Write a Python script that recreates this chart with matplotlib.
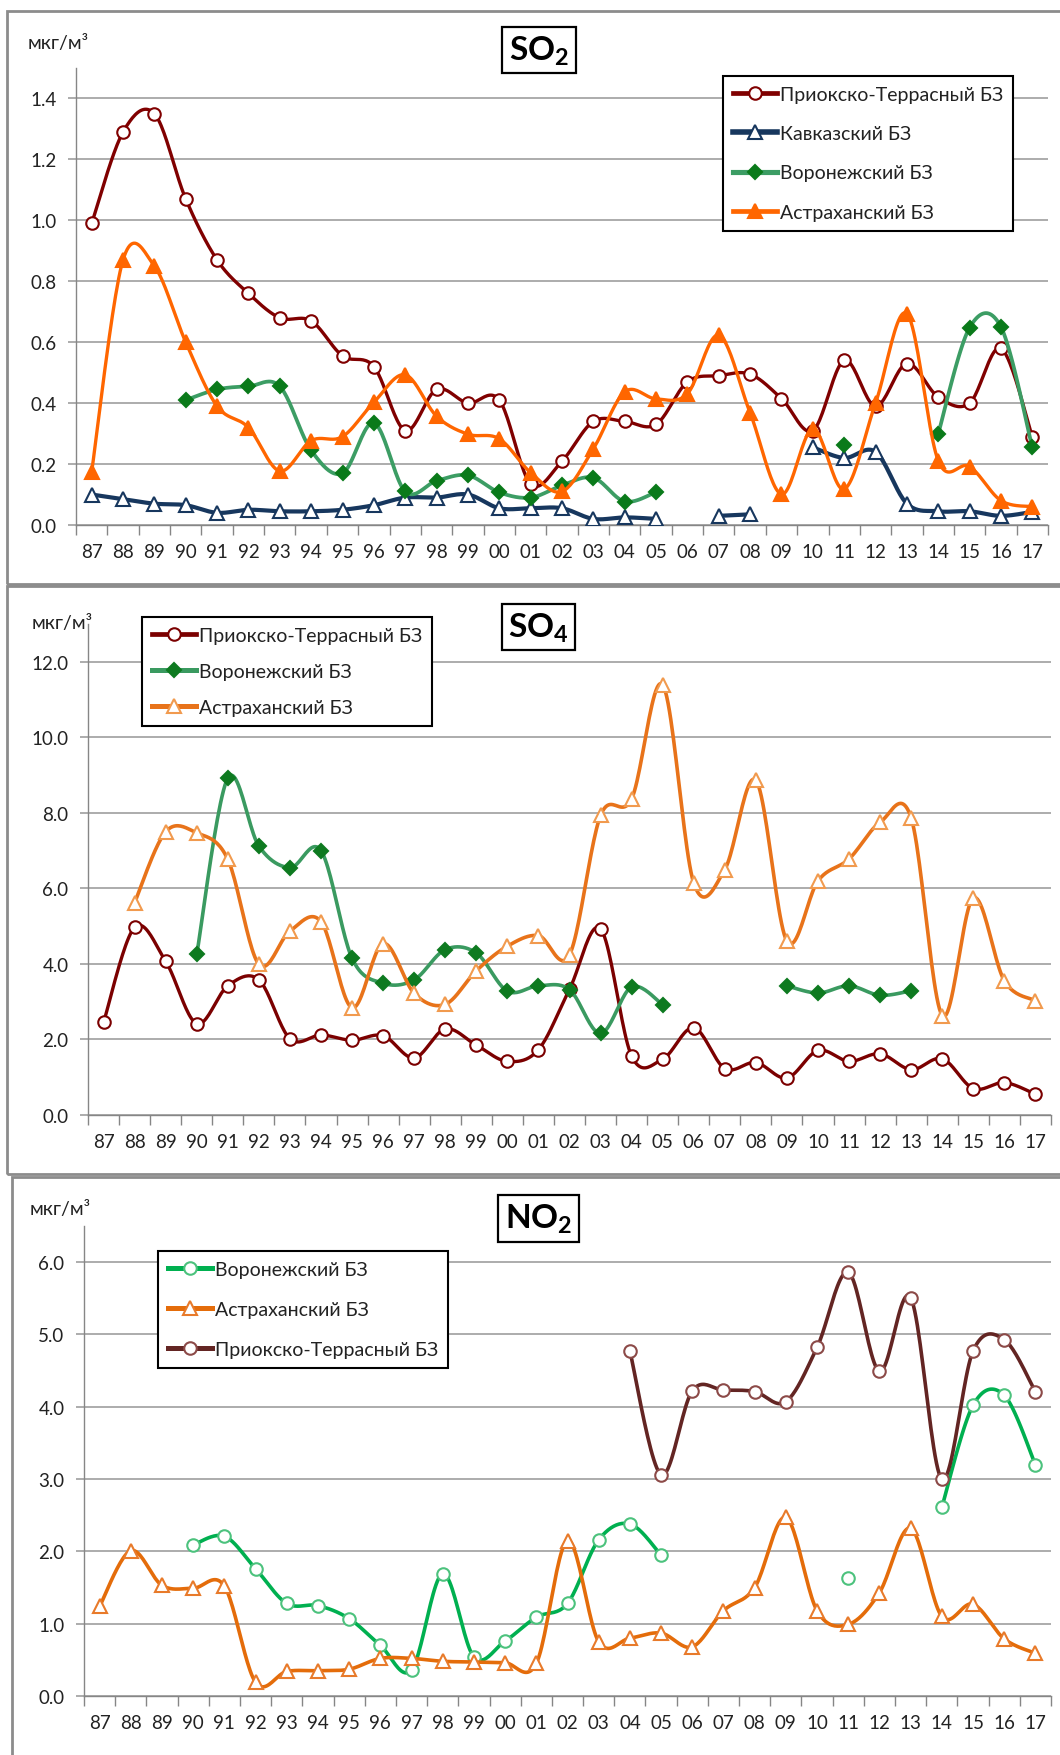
import numpy as np
import matplotlib
matplotlib.use('Agg')
import matplotlib.pyplot as plt
from matplotlib.lines import Line2D
from matplotlib.patches import Rectangle

plt.rcParams['font.family'] = ['Lato', 'DejaVu Sans']
plt.rcParams['mathtext.fontset'] = 'custom'
plt.rcParams['mathtext.rm'] = 'Lato'
plt.rcParams['mathtext.bf'] = 'Lato:bold'

years = ['87', '88', '89', '90', '91', '92', '93', '94', '95', '96', '97', '98', '99',
         '00', '01', '02', '03', '04', '05', '06', '07', '08', '09', '10', '11', '12',
         '13', '14', '15', '16', '17']

# SO2, мкг/м3
so2_prioksko = [0.99, 1.29, 1.35, 1.07, 0.87, 0.76, 0.68, 0.67, 0.555, 0.52, 0.31, 0.445, 0.40,
                0.41, 0.135, 0.21, 0.34, 0.34, 0.33, 0.47, 0.49, 0.495, 0.415, 0.31, 0.54, 0.39,
                0.53, 0.42, 0.40, 0.58, 0.29]
so2_kavkaz = [0.10, 0.085, 0.07, 0.065, 0.04, 0.05, 0.045, 0.045, 0.05, 0.065, 0.09, 0.09, 0.10,
              0.055, 0.055, 0.055, 0.02, 0.025, 0.02, None, 0.03, 0.035, None, 0.255, 0.22, 0.24,
              0.07, 0.045, 0.045, 0.03, 0.043]
so2_voronezh = [None, None, None, 0.41, 0.445, 0.455, 0.455, 0.245, 0.17, 0.335, 0.11, 0.145, 0.163,
                0.107, 0.09, 0.13, 0.155, 0.077, 0.108, None, None, None, None, None, 0.262, None,
                None, 0.30, 0.648, 0.65, 0.255]
so2_astrakhan = [0.175, 0.87, 0.85, 0.60, 0.39, 0.32, 0.177, 0.277, 0.29, 0.403, 0.493, 0.357, 0.298,
                 0.283, 0.172, 0.11, 0.25, 0.437, 0.414, 0.431, 0.623, 0.368, 0.101, 0.315, 0.118,
                 0.40, 0.694, 0.211, 0.192, 0.08, 0.06]

# SO4
so4_prioksko = [2.45, 4.97, 4.07, 2.42, 3.42, 3.58, 2.02, 2.12, 1.98, 2.10, 1.51, 2.28, 1.85,
                1.42, 1.73, 3.33, 4.93, 1.56, 1.48, 2.31, 1.23, 1.39, 0.98, 1.71, 1.42, 1.62,
                1.20, 1.49, 0.70, 0.86, 0.55]
so4_voronezh = [None, None, None, 4.25, 8.92, 7.12, 6.55, 7.0, 4.15, 3.49, 3.58, 4.38, 4.29,
                3.28, 3.42, 3.32, 2.16, 3.39, 2.92, None, None, None, 3.42, 3.23, 3.42, 3.17,
                3.29, None, None, None, None]
so4_astrakhan = [None, 5.62, 7.5, 7.47, 6.77, 3.99, 4.87, 5.12, 2.84, 4.54, 3.22, 2.93, 3.82,
                 4.47, 4.75, 4.24, 7.93, 8.37, 11.39, 6.14, 6.5, 8.86, 4.60, 6.2, 6.78, 7.75,
                 7.86, 2.63, 5.75, 3.55, 3.03]

# NO2
no2_voronezh = [None, None, None, 2.09, 2.21, 1.76, 1.28, 1.25, 1.07, 0.70, 0.36, 1.69, 0.54,
                0.76, 1.09, 1.28, 2.16, 2.38, 1.95, None, None, None, None, None, 1.63, None,
                None, 2.61, 4.02, 4.16, 3.2]
no2_astrakhan = [1.24, 2.01, 1.53, 1.49, 1.52, 0.19, 0.34, 0.35, 0.37, 0.52, 0.52, 0.48, 0.47,
                 0.46, 0.45, 2.15, 0.75, 0.80, 0.87, 0.68, 1.18, 1.50, 2.47, 1.18, 0.99, 1.43,
                 2.32, 1.10, 1.27, 0.79, 0.59]
no2_prioksko = [None] * 17 + [4.77, 3.06, 4.22, 4.23, 4.21, 4.07, 4.82, 5.86, 4.49, 5.51,
                              3.0, 4.77, 4.93, 4.21]

W, H = 1060, 1756


def fx(px):
    return px / W


def fy(py):
    return 1 - py / H


def smooth(xs, ys, n=24):
    # excel-like smoothed line (catmull-rom through the points)
    xs = np.asarray(xs, float)
    ys = np.asarray(ys, float)
    px = np.concatenate([[xs[0]], xs, [xs[-1]]])
    py = np.concatenate([[ys[0]], ys, [ys[-1]]])
    outx, outy = [], []
    t = np.linspace(0, 1, n)
    for i in range(1, len(px) - 2):
        p0 = np.array([px[i], py[i]])
        p3 = np.array([px[i + 1], py[i + 1]])
        c1 = p0 + (np.array([px[i + 1], py[i + 1]]) - np.array([px[i - 1], py[i - 1]])) / 6
        c2 = p3 - (np.array([px[i + 2], py[i + 2]]) - np.array([px[i], py[i]])) / 6
        b = ((1 - t) ** 3)[:, None] * p0 + (3 * (1 - t) ** 2 * t)[:, None] * c1 \
            + (3 * (1 - t) * t ** 2)[:, None] * c2 + (t ** 3)[:, None] * p3
        outx.extend(b[:, 0])
        outy.extend(b[:, 1])
    return outx, outy


def draw(ax, vals, z, color, lw, marker, ms, mfc, mec, mew=1.5):
    segs, cur = [], []
    for i, v in enumerate(vals):
        if v is None:
            if cur:
                segs.append(cur)
            cur = []
        else:
            cur.append((i, v))
    if cur:
        segs.append(cur)
    for s in segs:
        if len(s) > 1:
            sx, sy = smooth([p[0] for p in s], [p[1] for p in s])
            ax.plot(sx, sy, color=color, lw=lw, solid_capstyle='round', zorder=z)
    xs = [i for i, v in enumerate(vals) if v is not None]
    ys = [v for v in vals if v is not None]
    ax.plot(xs, ys, ls='none', marker=marker, ms=ms, mfc=mfc, mec=mec, mew=mew, zorder=z + 0.5)
    return Line2D([], [], color=color, lw=lw + 1, marker=marker, ms=ms, mfc=mfc, mec=mec, mew=mew)


def setup(ax, ymax, ticks):
    ax.set_xlim(-0.5, len(years) - 0.5)
    ax.set_ylim(0, ymax)
    ax.set_xticks(range(len(years)))
    ax.set_xticklabels(years)
    ax.set_xticks(np.arange(-0.5, len(years), 1), minor=True)
    ax.set_yticks(ticks)
    ax.set_yticklabels(['%.1f' % t for t in ticks])
    ax.tick_params(axis='x', which='major', length=0, pad=13, labelsize=13.5, labelcolor='#222222')
    ax.tick_params(axis='x', which='minor', length=7, color='#868686', width=1)
    ax.tick_params(axis='y', length=6, color='#A6A6A6', width=1.3, pad=8, labelsize=13.5,
                   labelcolor='#222222')
    ax.yaxis.grid(True, color='#A6A6A6', lw=1.3)
    ax.set_axisbelow(True)
    for s in ['top', 'right']:
        ax.spines[s].set_visible(False)
    for s in ['left', 'bottom']:
        ax.spines[s].set_color('#868686')
        ax.spines[s].set_linewidth(1)


def add_legend(handles, labels, x, y, spacing):
    leg = fig.legend(handles, labels, loc='upper left', bbox_to_anchor=(fx(x), fy(y)),
                     bbox_transform=fig.transFigure, borderaxespad=0, fancybox=False,
                     edgecolor='black', framealpha=1, fontsize=14, handlelength=2.3,
                     handletextpad=0.15, labelspacing=spacing, borderpad=0.5, numpoints=1)
    leg.get_frame().set_linewidth(1.5)
    for t in leg.get_texts():
        t.set_color('#222222')
    return leg


fig = plt.figure(figsize=(W / 100, H / 100), dpi=100)

# panel frames
for (x0, y0, x1, y1) in [(7, 12, 1075, 585), (7, 587, 1075, 1175), (12, 1178, 1075, 1770)]:
    fig.add_artist(Rectangle((fx(x0), fy(y1)), (x1 - x0) / W, (y1 - y0) / H,
                             transform=fig.transFigure, fill=False, ec='#8C8C8C', lw=2))

box = dict(boxstyle='square,pad=0.2', fc='white', ec='black', lw=1.6)

# ---- SO2 ----
ax1 = fig.add_axes([fx(76), fy(526), (1048 - 76) / W, (526 - 69) / H])
setup(ax1, 1.5, np.arange(0, 1.41, 0.2))
h1 = draw(ax1, so2_prioksko, 2, '#800000', 2.4, 'o', 9, 'white', '#800000')
h2 = draw(ax1, so2_kavkaz, 3, '#17375E', 3.0, '^', 9.5, 'white', '#17375E')
h3 = draw(ax1, so2_voronezh, 4, '#3C9D64', 2.7, 'D', 7, '#0A7A1A', '#0A7A1A')
h4 = draw(ax1, so2_astrakhan, 5, '#FF6600', 2.4, '^', 10.5, '#FF6600', '#FF6600')
add_legend([h1, h2, h3, h4], ['Приокско-Террасный БЗ', 'Кавказский БЗ', 'Воронежский БЗ',
                              'Астраханский БЗ'], 723, 77, 1.15)
fig.text(fx(539), fy(51), r'$\mathbf{SO_2}$', ha='center', va='center', fontsize=24, bbox=box)
fig.text(fx(28), fy(43), 'мкг/м³', ha='left', va='center', fontsize=14, color='#222222')

# ---- SO4 ----
ax2 = fig.add_axes([fx(88), fy(1116), (1051 - 88) / W, (1116 - 625) / H])
setup(ax2, 13, np.arange(0, 12.1, 2))
g1 = draw(ax2, so4_prioksko, 2, '#7B0000', 2.4, 'o', 9, 'white', '#7B0000')
g2 = draw(ax2, so4_voronezh, 3, '#3A9A60', 2.6, 'D', 7, '#0E7A20', '#0E7A20')
g3 = draw(ax2, so4_astrakhan, 4, '#E8731A', 2.6, '^', 10, 'white', '#F19A4E')
add_legend([g1, g2, g3], ['Приокско-Террасный БЗ', 'Воронежский БЗ', 'Астраханский БЗ'],
           142, 618, 0.99)
fig.text(fx(538.5), fy(628), r'$\mathbf{SO_4}$', ha='center', va='center', fontsize=24, bbox=box)
fig.text(fx(32), fy(623), 'мкг/м³', ha='left', va='center', fontsize=14, color='#222222')

# ---- NO2 ----
ax3 = fig.add_axes([fx(84), fy(1697), (1051 - 84) / W, (1697 - 1227) / H])
setup(ax3, 6.5, np.arange(0, 6.1, 1))
k1 = draw(ax3, no2_voronezh, 2, '#00B050', 2.6, 'o', 9, 'white', '#4CC27D')
k2 = draw(ax3, no2_astrakhan, 3, '#E46C0A', 2.6, '^', 10, 'white', '#E87A2A')
k3 = draw(ax3, no2_prioksko, 4, '#632523', 2.6, 'o', 9, 'white', '#8C4A48')
add_legend([k1, k2, k3], ['Воронежский БЗ', 'Астраханский БЗ', 'Приокско-Террасный БЗ'],
           158, 1252, 1.19)
fig.text(fx(538.5), fy(1219.5), r'$\mathbf{NO_2}$', ha='center', va='center', fontsize=24, bbox=box)
fig.text(fx(30), fy(1210), 'мкг/м³', ha='left', va='center', fontsize=14, color='#222222')

fig.savefig('out.png', dpi=100)
